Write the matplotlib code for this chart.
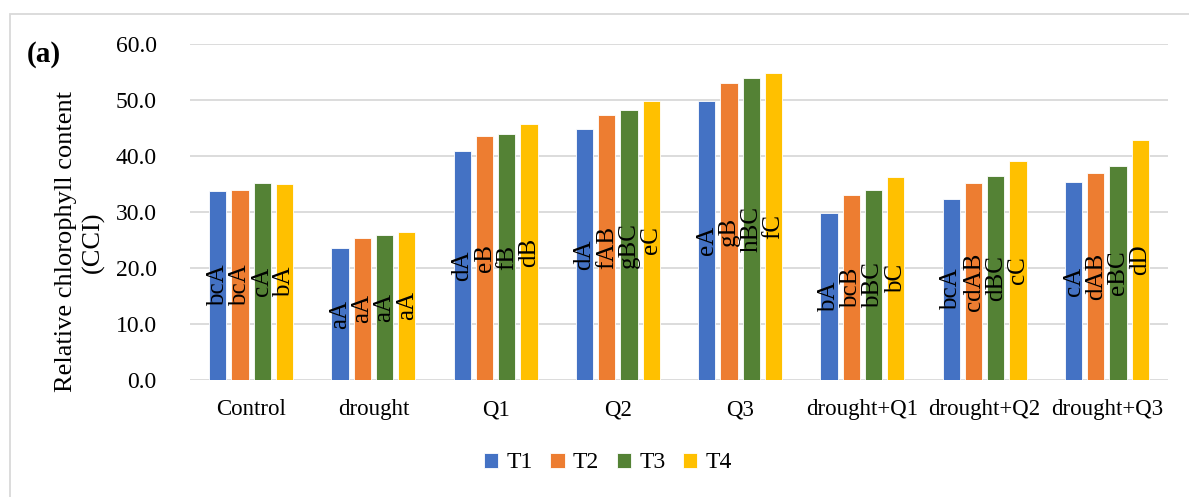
import matplotlib
matplotlib.use("Agg")
import matplotlib.pyplot as plt
import numpy as np
from matplotlib.patches import Rectangle

plt.rcParams['font.family'] = ['Liberation Serif', 'DejaVu Serif']

categories = ["Control", "drought", "Q1", "Q2", "Q3", "drought+Q1", "drought+Q2", "drought+Q3"]
series_names = ["T1", "T2", "T3", "T4"]
T1 = [33.7, 23.5, 40.9, 44.9, 49.8, 29.9, 32.3, 35.3]
T2 = [34.0, 25.4, 43.6, 47.3, 53.0, 33.0, 35.1, 36.9]
T3 = [35.2, 25.9, 43.9, 48.2, 53.9, 33.9, 36.5, 38.2]
T4 = [35.0, 26.5, 45.7, 49.8, 54.9, 36.2, 39.1, 42.9]
labels_T1 = ["bcA", "aA", "dA", "dA", "eA", "bA", "bcA", "cA"]
labels_T2 = ["bcA", "aA", "eB", "fAB", "gB", "bcB", "cdAB", "dAB"]
labels_T3 = ["cA", "aA", "fB", "gBC", "hBC", "bBC", "dBC", "eBC"]
labels_T4 = ["bA", "aA", "dB", "eC", "fC", "bC", "cC", "dD"]
yticks = [0, 10, 20, 30, 40, 50, 60]

colors = ["#4472C4", "#ED7D31", "#548235", "#FFC000"]
W, H = 1189, 497
fig = plt.figure(figsize=(W / 100, H / 100), dpi=100)
ax = fig.add_axes([190 / W, 1 - 380 / H, (1168 - 190) / W, (380 - 44) / H])

x = np.arange(len(categories))
pitch = 0.182
bw = 0.143
all_vals = [T1, T2, T3, T4]
all_labels = [labels_T1, labels_T2, labels_T3, labels_T4]
for i, (vals, labs) in enumerate(zip(all_vals, all_labels)):
    pos = x + (i - 1.5) * pitch
    bars = ax.bar(pos, vals, width=bw, color=colors[i], edgecolor='white',
                  linewidth=0.6, label=series_names[i], zorder=3)
    ax.bar_label(bars, labels=labs, label_type='center', rotation=90,
                 fontsize=18, color='black', zorder=4)

ax.set_xlim(-0.5, len(categories) - 0.5)
ax.set_ylim(0, 60)
ax.set_yticks(yticks)
ax.set_yticklabels([f"{v:.1f}" for v in yticks], fontsize=17)
ax.set_xticks(x)
ax.set_xticklabels(categories, fontsize=16.5)
ax.tick_params(axis='both', length=0)
ax.tick_params(axis='y', pad=24)
ax.tick_params(axis='x', pad=14)
ax.grid(axis='y', color='#D9D9D9', linewidth=1.3, zorder=0)
for s in ax.spines.values():
    s.set_visible(False)

fig.text(80 / W, 1 - 242 / H, "Relative chlorophyll content\n(CCI)", rotation=90,
         ha='center', va='center', multialignment='center', fontsize=19,
         linespacing=1.3)
fig.text(27 / W, 1 - 55 / H, "(a)", fontsize=21, fontweight='bold', ha='left', va='center')

fig.legend(loc='center', bbox_to_anchor=(608 / W, 1 - 463 / H), ncol=4, frameon=False,
           fontsize=17, handlelength=0.6, handleheight=0.6, handletextpad=0.35,
           columnspacing=0.75)

fig.patches.append(Rectangle((10 / W, -0.1), 1.2, 1 - 14 / H + 0.1, transform=fig.transFigure,
                             fill=False, edgecolor='#D9D9D9', linewidth=1.3))

fig.savefig("out.png", dpi=100)
